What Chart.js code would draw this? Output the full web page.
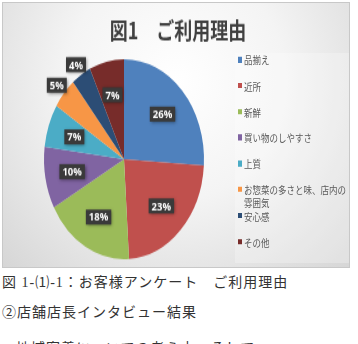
<!DOCTYPE html>
<html>
<head>
<meta charset="utf-8">
<script src="https://cdn.jsdelivr.net/npm/chart.js@4"></script>
<style>
  body { margin: 0; background: #fff; width: 358px; height: 344px; overflow: hidden; position: relative; }
  #box {
    position: absolute; left: 2px; top: 2px; width: 348px; height: 266px; overflow: hidden;
    background: radial-gradient(ellipse at 50% 30%, #ffffff 0%, #f4f4f4 45%, #d6d6d6 100%);
    border: 1px solid #c8c8c8; box-sizing: border-box;
  }
  #inner { position: absolute; left: 0; top: 0; width: 348px; height: 213px; transform: scaleY(1.25); transform-origin: 0 0; }
  #legend {
    position: absolute; left: 232px; top: 40px; width: 114px; height: 168px;
    background: rgba(255, 255, 255, 0.25); list-style: none; margin: 0; padding: 0;
  }
  #legend li {
    height: 20.8px; font: 8.5px/10.4px "Noto Sans CJK JP", sans-serif; color: #5a5a5a;
    white-space: pre-line; position: relative; padding-left: 9px; box-sizing: border-box;
  }
  #legend span { position: absolute; left: 3px; top: 3px; width: 4px; height: 4.5px; }
  .note { position: absolute; left: 2px; font: 14px "Liberation Serif", "Noto Sans CJK JP", serif; color: #333; letter-spacing: 1px; white-space: nowrap; }
</style>
</head>
<body>
<div id="box">
  <div id="inner">
    <canvas id="myChart" width="348" height="213"></canvas>
    <ul id="legend"></ul>
  </div>
</div>
<div class="note" style="top:271px">図 1-⑴-1：お客様アンケート　ご利用理由</div>
<div class="note" style="top:301px">②店舗店長インタビュー結果</div>
<div class="note" style="top:337px;left:16px">地域密着についての考え方、そして</div>

<script>
const chartTitle = '図1　ご利用理由';
const labels = ['品揃え', '近所', '新鮮', '買い物のしやすさ', '上質', 'お惣菜の多さと味、店内の\n雰囲気', '安心感', 'その他'];
const data = [26, 23, 18, 10, 7, 5, 4, 7];
const colors = ['#4F81BD', '#C0504D', '#9BBB59', '#8064A2', '#4BACC6', '#F79646', '#2C4D75', '#772C2A'];

const ctx = document.getElementById('myChart').getContext('2d');

// title centred on the whole canvas, not on the pie area
const centerTitle = {
  id: 'centerTitle',
  afterDraw(chart) {
    const c = chart.ctx;
    c.save();
    c.font = 'bold 18px "Noto Sans CJK JP", sans-serif';
    c.fillStyle = '#404040';
    c.textAlign = 'center';
    c.textBaseline = 'middle';
    c.fillText(chartTitle, chart.width / 2 + 1, 22.6);
    c.restore();
  },
};

// dark boxed percentage labels, small slices go outside
const boxLabels = {
  id: 'boxLabels',
  afterDatasetsDraw(chart) {
    const c = chart.ctx;
    const meta = chart.getDatasetMeta(0);
    meta.data.forEach((arc, i) => {
      const v = data[i];
      const mid = (arc.startAngle + arc.endAngle) / 2;
      const r = arc.outerRadius * (v < 6 ? 1.12 : 0.66);
      const x = arc.x + Math.cos(mid) * r;
      const y = arc.y + Math.sin(mid) * r;
      const text = v + '%';
      c.save();
      c.font = 'bold 9.5px "Open Sans", sans-serif';
      const w = c.measureText(text).width + 6;
      const h = 12;
      c.shadowColor = 'rgba(0,0,0,0.45)';
      c.shadowBlur = 3;
      c.shadowOffsetX = 1;
      c.shadowOffsetY = 1;
      c.fillStyle = '#3a3a3a';
      c.fillRect(x - w / 2, y - h / 2, w, h);
      c.shadowColor = 'transparent';
      c.fillStyle = '#fff';
      c.textAlign = 'center';
      c.textBaseline = 'middle';
      c.fillText(text, x, y + 0.5);
      c.restore();
    });
  },
};

const myChart = new Chart(ctx, {
  type: 'pie',
  data: {
    labels,
    datasets: [
      {
        data,
        backgroundColor: colors,
        borderWidth: 0,
      },
    ],
  },
  options: {
    responsive: false,
    animation: false,
    layout: {
      padding: { top: 45, left: 41, right: 147, bottom: 8 },
    },
    plugins: {
      legend: { display: false },
      tooltip: { enabled: false },
      title: { display: false },
    },
  },
  plugins: [boxLabels, centerTitle],
});

const legendEl = document.getElementById('legend');
labels.forEach((label, i) => {
  const li = document.createElement('li');
  const sw = document.createElement('span');
  sw.style.background = colors[i];
  li.appendChild(sw);
  li.appendChild(document.createTextNode(label));
  legendEl.appendChild(li);
});
</script>
</body>
</html>
